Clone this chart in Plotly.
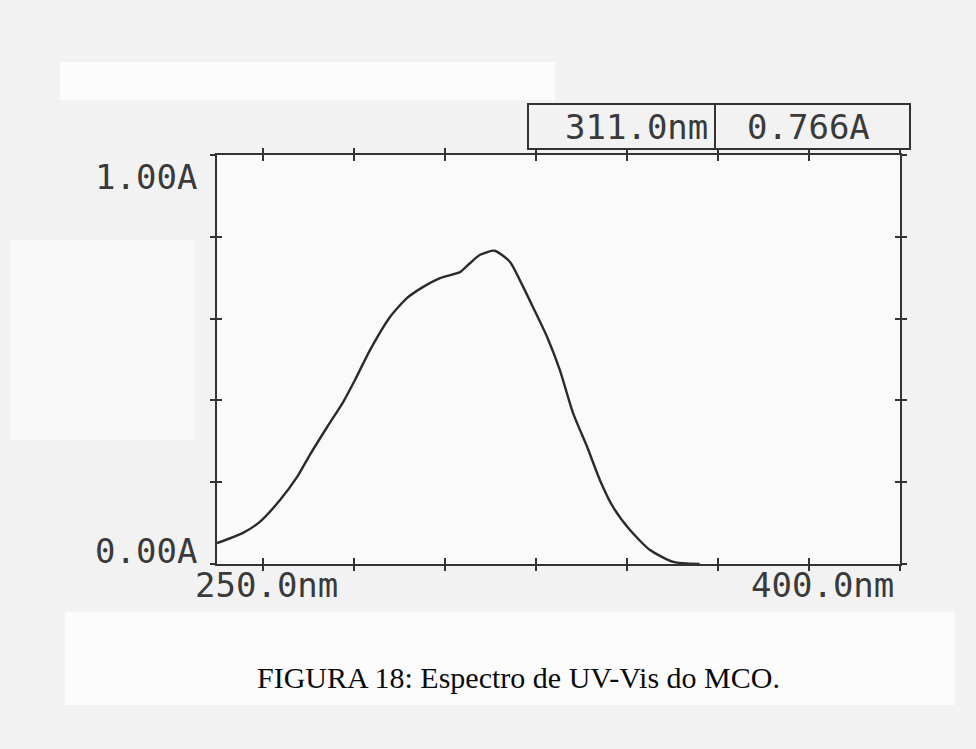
import plotly.graph_objects as go

# UV-Vis absorption spectrum (wavelength in nm, absorbance in A)
wavelength_nm = [250.0, 255.7, 259.4, 263.8, 267.6, 270.4, 274.2, 277.7, 280.3, 283.6,
                 288.0, 291.7, 295.2, 299.0, 303.4, 305.6, 307.8, 311.0, 314.4, 316.5,
                 319.4, 322.5, 325.3, 328.2, 331.3, 334.1, 337.0, 340.7, 345.1, 350.2,
                 356.0]
absorbance = [0.051, 0.076, 0.103, 0.156, 0.213, 0.267, 0.335, 0.396, 0.450, 0.523,
              0.604, 0.650, 0.677, 0.699, 0.714, 0.736, 0.756, 0.766, 0.738, 0.694,
              0.628, 0.555, 0.474, 0.369, 0.286, 0.205, 0.139, 0.083, 0.034, 0.005,
              0.0]

x_range = [250.0, 400.0]
y_range = [0.0, 1.0]
x_tick_step = 20
y_tick_step = 0.2

peak_nm = 311.0
peak_abs = 0.766
caption = "FIGURA 18: Espectro de UV-Vis do MCO."

INK = "#333333"
MONO = "DejaVu Sans Mono"

fig = go.Figure()
fig.add_trace(go.Scatter(
    x=wavelength_nm, y=absorbance, mode="lines",
    line=dict(color="#2b2b2b", width=2.4, shape="spline", smoothing=0.6),
    hoverinfo="skip", showlegend=False,
))

# invisible trace on overlaid axes, used for the outward half of the cross ticks
fig.add_trace(go.Scatter(x=[x_range[0]], y=[y_range[0]], mode="markers",
                         marker=dict(opacity=0), xaxis="x2", yaxis="y2",
                         hoverinfo="skip", showlegend=False))

common_x = dict(range=x_range, tickmode="linear", tick0=260, dtick=x_tick_step,
                showticklabels=False, showgrid=False, zeroline=False,
                showline=True, linecolor=INK, linewidth=2.2, mirror="ticks",
                tickcolor=INK, tickwidth=2)
common_y = dict(range=y_range, tickmode="linear", tick0=0.2, dtick=y_tick_step,
                showticklabels=False, showgrid=False, zeroline=False,
                showline=True, linecolor=INK, linewidth=2.2, mirror="ticks",
                tickcolor=INK, tickwidth=2)

fig.update_layout(
    width=976, height=749, autosize=False,
    margin=dict(l=217, r=76, t=155, b=185),
    paper_bgcolor="#f2f2f2",
    plot_bgcolor="#fafafa",
    xaxis=dict(**common_x, ticks="inside", ticklen=6),
    yaxis=dict(**common_y, ticks="inside", ticklen=5),
    xaxis2=dict(**common_x, ticks="outside", ticklen=5, overlaying="x", side="bottom"),
    yaxis2=dict(**common_y, ticks="outside", ticklen=5, overlaying="y", side="left"),
    font=dict(family=MONO, color=INK),
)


def px_x(px):
    return (px - 217) / 683


def px_y(py):
    return (564 - py) / 409


# lighter patches of the scanned page
for x0, y0, x1, y1, col in [(60, 62, 555, 100, "#fcfcfc"),
                            (65, 612, 955, 705, "#fcfcfc"),
                            (10, 240, 195, 440, "#f8f8f8")]:
    fig.add_shape(type="rect", xref="paper", yref="paper", layer="below",
                  x0=px_x(x0), x1=px_x(x1), y0=px_y(y1), y1=px_y(y0),
                  fillcolor=col, line=dict(width=0))

# readout box at the top right
box_l, box_m, box_r, box_t, box_b = 528, 715, 910, 104, 149
fig.add_shape(type="rect", xref="paper", yref="paper",
              x0=px_x(box_l), x1=px_x(box_r), y0=px_y(box_b), y1=px_y(box_t),
              line=dict(color=INK, width=2), fillcolor="rgba(0,0,0,0)")
fig.add_shape(type="line", xref="paper", yref="paper",
              x0=px_x(box_m), x1=px_x(box_m), y0=px_y(box_b), y1=px_y(box_t),
              line=dict(color=INK, width=2))

label_font = dict(family=MONO, size=34, color="#3a3a3a")
fig.add_annotation(xref="paper", yref="paper", x=px_x(710), y=px_y(127),
                   text=f"{peak_nm:.1f}nm", showarrow=False,
                   xanchor="right", yanchor="middle", font=label_font)
fig.add_annotation(xref="paper", yref="paper", x=px_x(808), y=px_y(127),
                   text=f"{peak_abs:.3f}A", showarrow=False,
                   xanchor="center", yanchor="middle", font=label_font)

# axis end labels
fig.add_annotation(xref="paper", yref="paper", x=px_x(199), y=px_y(177),
                   text=f"{y_range[1]:.2f}A", showarrow=False,
                   xanchor="right", yanchor="middle", font=label_font)
fig.add_annotation(xref="paper", yref="paper", x=px_x(199), y=px_y(551),
                   text=f"{y_range[0]:.2f}A", showarrow=False,
                   xanchor="right", yanchor="middle", font=label_font)
fig.add_annotation(xref="paper", yref="paper", x=px_x(193), y=px_y(585),
                   text=f"{x_range[0]:.1f}nm", showarrow=False,
                   xanchor="left", yanchor="middle", font=label_font)
fig.add_annotation(xref="paper", yref="paper", x=px_x(896), y=px_y(585),
                   text=f"{x_range[1]:.1f}nm", showarrow=False,
                   xanchor="right", yanchor="middle", font=label_font)

# figure caption
fig.add_annotation(xref="paper", yref="paper", x=px_x(518), y=px_y(677),
                   text=caption, showarrow=False, xanchor="center", yanchor="middle",
                   font=dict(family="Liberation Serif", size=30, color="#0a0a0a"))

fig.write_html("out.html")
